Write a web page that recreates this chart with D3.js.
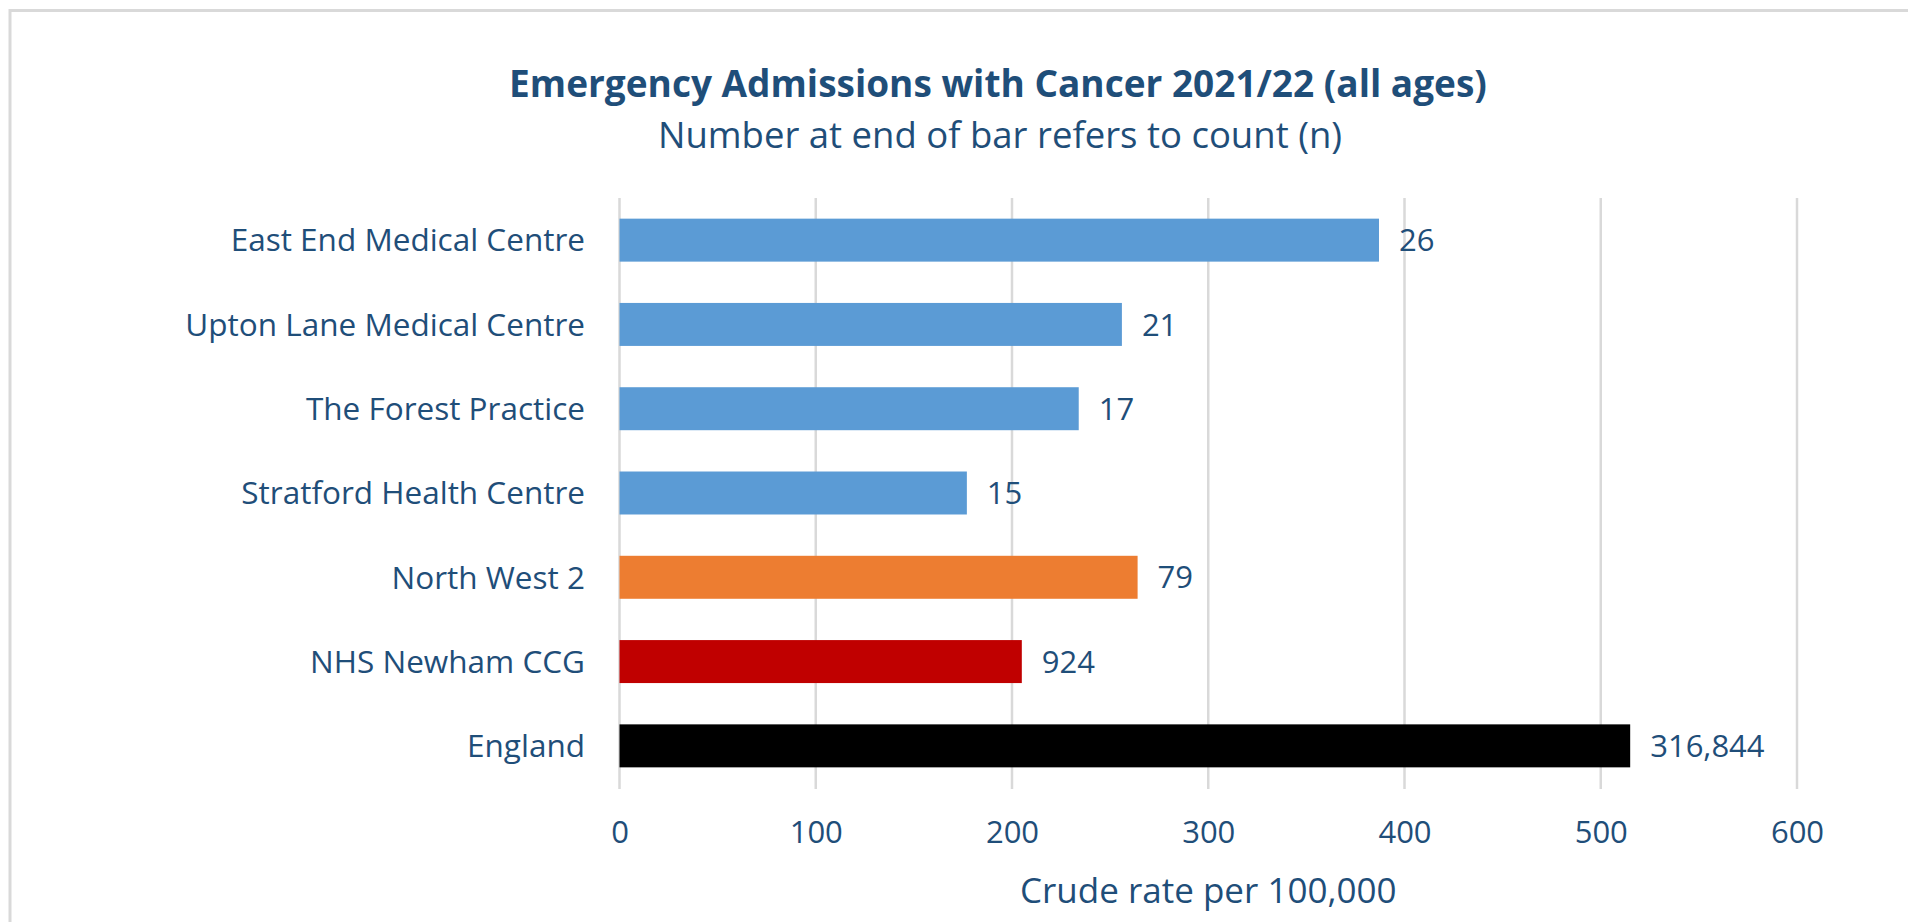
<!DOCTYPE html>
<html>
<head>
<meta charset="utf-8">
<script src="https://cdn.jsdelivr.net/npm/d3@7"></script>
<style>
  body { margin: 0; background: #fff; }
  svg text { font-family: "Open Sans", sans-serif; fill: #1f4e79; }
</style>
</head>
<body>
<div id="vis"></div>
<script>
// chart data
var categories = [
  "East End Medical Centre",
  "Upton Lane Medical Centre",
  "The Forest Practice",
  "Stratford Health Centre",
  "North West 2",
  "NHS Newham CCG",
  "England"
];
var rates = [387, 256, 234, 177, 264, 205, 515];
var counts = [26, 21, 17, 15, 79, 924, 316844];
var levels = ["practice", "practice", "practice", "practice", "pcn", "ccg", "england"];
var xTicks = [0, 100, 200, 300, 400, 500, 600];

var width = 1908;
var height = 922;
var margin = { top: 198, left: 619.5, bottom: 134, right: 111 };

var svg = d3.select('#vis').append('svg')
  .attr('width', width)
  .attr('height', height);

// light frame round the chart area (only top and left show)
svg.append('rect')
  .attr('x', 10)
  .attr('y', 10.5)
  .attr('width', 2000)
  .attr('height', 2000)
  .attr('fill', 'none')
  .attr('stroke', '#d9d9d9')
  .attr('stroke-width', 3);

var x = d3.scaleLinear()
  .domain([0, 600])
  .range([margin.left, width - margin.right]);

var y = d3.scaleBand()
  .domain(categories)
  .range([margin.top, height - margin.bottom])
  .paddingInner(0.49)
  .paddingOuter(0.245);

var colour = d3.scaleOrdinal()
  .domain(["practice", "pcn", "ccg", "england"])
  .range(["#5b9bd5", "#ed7d31", "#c00000", "#000000"]);

// vertical gridlines
svg.append('g')
  .selectAll('line')
  .data(xTicks)
  .join('line')
  .attr('x1', d => x(d))
  .attr('x2', d => x(d))
  .attr('y1', margin.top)
  .attr('y2', height - margin.bottom + 1)
  .attr('stroke', '#d9d9d9')
  .attr('stroke-width', 2.5);

// x axis labels (no domain line or ticks)
var xAxis = svg.append('g')
  .attr('transform', 'translate(0,' + 843 + ')')
  .call(d3.axisBottom(x).tickValues(xTicks).tickSize(0).tickPadding(0));
xAxis.select('.domain').remove();
xAxis.selectAll('text')
  .attr('dy', 0)
  .style('font-size', '31px')
  .style('fill', '#1f4e79');

// category labels
var yAxis = svg.append('g')
  .attr('transform', 'translate(585,0)')
  .call(d3.axisLeft(y).tickSize(0).tickPadding(0));
yAxis.select('.domain').remove();
yAxis.selectAll('text')
  .attr('dy', '0.36em')
  .style('font-size', '31.5px')
  .style('fill', '#1f4e79');

// bars
svg.append('g')
  .selectAll('rect')
  .data(categories)
  .join('rect')
  .attr('x', x(0))
  .attr('y', d => y(d))
  .attr('width', (d, i) => x(rates[i]) - x(0))
  .attr('height', y.bandwidth())
  .attr('fill', (d, i) => colour(levels[i]));

// counts at end of bars
var fmt = d3.format(',');
svg.append('g')
  .selectAll('text')
  .data(categories)
  .join('text')
  .attr('x', (d, i) => x(rates[i]) + 20)
  .attr('y', d => y(d) + y.bandwidth() / 2)
  .attr('dy', '0.36em')
  .style('font-size', '31px')
  .text((d, i) => fmt(counts[i]));

// titles
svg.append('text')
  .attr('x', 998)
  .attr('y', 97)
  .attr('text-anchor', 'middle')
  .style('font-size', '37px')
  .style('font-weight', 'bold')
  .text('Emergency Admissions with Cancer 2021/22 (all ages)');

svg.append('text')
  .attr('x', 1000)
  .attr('y', 148)
  .attr('text-anchor', 'middle')
  .style('font-size', '36.5px')
  .text('Number at end of bar refers to count (n)');

svg.append('text')
  .attr('x', (x(0) + x(600)) / 2)
  .attr('y', 903)
  .attr('text-anchor', 'middle')
  .style('font-size', '35px')
  .text('Crude rate per 100,000');
</script>
</body>
</html>
